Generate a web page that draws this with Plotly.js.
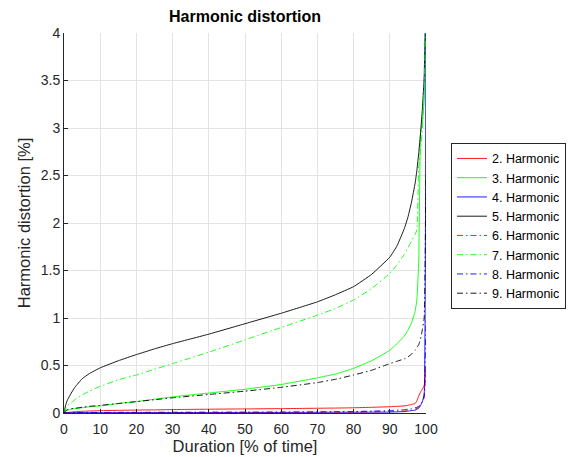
<!DOCTYPE html>
<html>
<head>
<meta charset="utf-8">
<script src="https://cdn.plot.ly/plotly-3.0.1.min.js"></script>
<style>html,body{margin:0;padding:0;background:#fff;}#chart{width:582px;height:457px;}</style>
</head>
<body>
<div id="chart"></div>
<script>
// Duration [% of time]
var duration = [0, 0.5, 1, 2, 3, 5, 7, 10, 15, 20, 25, 30, 40, 50, 60, 70, 75, 80, 85, 90, 92, 94, 95, 96, 97, 97.5, 98, 98.5, 99, 99.5, 100];

// Harmonic distortion [%] per harmonic order
var h2 = [0, 0.003, 0.005, 0.01, 0.013, 0.018, 0.021, 0.025, 0.028, 0.031, 0.033, 0.036, 0.04, 0.043, 0.046, 0.05, 0.052, 0.055, 0.06, 0.066, 0.07, 0.075, 0.08, 0.09, 0.1, 0.13, 0.18, 0.22, 0.25, 0.29, 0.45];
var h3 = [0, 0.02, 0.03, 0.04, 0.045, 0.055, 0.065, 0.075, 0.1, 0.12, 0.145, 0.17, 0.21, 0.25, 0.3, 0.37, 0.41, 0.47, 0.55, 0.66, 0.73, 0.81, 0.87, 0.95, 1.07, 1.2, 1.6, 2.95, 3.05, 3.3, 4.2];
var h4 = [0, 0.002, 0.003, 0.003, 0.003, 0.004, 0.004, 0.004, 0.004, 0.005, 0.005, 0.005, 0.005, 0.006, 0.006, 0.007, 0.008, 0.008, 0.009, 0.01, 0.012, 0.015, 0.02, 0.025, 0.03, 0.04, 0.05, 0.08, 0.12, 0.2, 4.5];
var h5 = [0, 0.09, 0.14, 0.21, 0.27, 0.36, 0.415, 0.475, 0.55, 0.615, 0.675, 0.73, 0.83, 0.94, 1.05, 1.17, 1.245, 1.33, 1.46, 1.64, 1.76, 1.94, 2.06, 2.22, 2.42, 2.56, 2.74, 2.95, 3.2, 3.55, 4.5];
var h6 = [0, 0.002, 0.003, 0.004, 0.004, 0.004, 0.004, 0.005, 0.005, 0.005, 0.005, 0.005, 0.006, 0.006, 0.007, 0.008, 0.009, 0.01, 0.012, 0.015, 0.018, 0.021, 0.025, 0.03, 0.04, 0.05, 0.06, 0.09, 0.12, 0.16, 0.5];
var h7 = [0, 0.05, 0.08, 0.11, 0.14, 0.19, 0.23, 0.28, 0.35, 0.4, 0.46, 0.52, 0.64, 0.77, 0.9, 1.03, 1.1, 1.19, 1.31, 1.47, 1.56, 1.67, 1.74, 1.81, 1.88, 1.93, 2.6, 2.75, 3.0, 3.4, 4.3];
var h8 = [0, 0.003, 0.004, 0.005, 0.005, 0.005, 0.006, 0.006, 0.007, 0.007, 0.008, 0.008, 0.009, 0.009, 0.01, 0.012, 0.013, 0.015, 0.02, 0.025, 0.03, 0.035, 0.04, 0.045, 0.055, 0.06, 0.07, 0.09, 0.12, 0.18, 1.0];
var h9 = [0, 0.025, 0.035, 0.045, 0.05, 0.06, 0.07, 0.08, 0.1, 0.12, 0.14, 0.16, 0.195, 0.23, 0.27, 0.32, 0.355, 0.4, 0.45, 0.52, 0.545, 0.57, 0.59, 0.62, 0.66, 0.69, 0.72, 0.78, 0.88, 1.0, 2.5];

var seriesNames = ['2. Harmonic', '3. Harmonic', '4. Harmonic', '5. Harmonic', '6. Harmonic', '7. Harmonic', '8. Harmonic', '9. Harmonic'];
var seriesValues = [h2, h3, h4, h5, h6, h7, h8, h9];
var seriesColors = ['#ff0000', '#00ff00', '#0000ff', '#000000', '#ff0000', '#00ff00', '#0000ff', '#000000'];
var seriesDash = ['solid', 'solid', 'solid', 'solid', '6px,3px,1.5px,3px', '6px,3px,1.5px,3px', '6px,3px,1.5px,3px', '6px,3px,1.5px,3px'];

var traces = seriesNames.map(function (name, i) {
  return {
    x: duration,
    y: seriesValues[i],
    name: name,
    type: 'scatter',
    mode: 'lines',
    line: {color: seriesColors[i], width: 0.9, dash: seriesDash[i], shape: 'spline', smoothing: 0.3}
  };
});

var axisColor = '#262626';
var layout = {
  width: 582,
  height: 457,
  margin: {l: 64, r: 156, t: 33, b: 44},
  paper_bgcolor: '#ffffff',
  plot_bgcolor: '#ffffff',
  font: {family: '"Liberation Sans", Arial, sans-serif', color: axisColor},
  title: {
    text: '<b>Harmonic distortion</b>',
    font: {size: 16, color: '#000000'},
    x: 0.421, xanchor: 'center',
    y: 0.964, yanchor: 'middle'
  },
  showlegend: true,
  legend: {
    x: 1.069, xanchor: 'left',
    y: 0.711, yanchor: 'top',
    bgcolor: '#ffffff',
    bordercolor: axisColor,
    borderwidth: 1,
    font: {size: 12.5, color: '#000000'},
    tracegroupgap: 0
  },
  xaxis: {
    range: [0, 100],
    tickvals: [0, 10, 20, 30, 40, 50, 60, 70, 80, 90, 100],
    ticktext: ['0', '10', '20', '30', '40', '50', '60', '70', '80', '90', '100'],
    ticks: 'inside', ticklen: 4, tickcolor: axisColor, tickwidth: 1,
    ticklabelstandoff: 3,
    showline: true, linecolor: axisColor, linewidth: 1, mirror: false,
    showgrid: true, gridcolor: '#e3e3e3', gridwidth: 1,
    zeroline: false,
    tickfont: {size: 14, color: axisColor},
    title: {text: 'Duration [% of time]', font: {size: 16.5, color: axisColor}, standoff: 4}
  },
  yaxis: {
    range: [0, 4],
    tickvals: [0, 0.5, 1, 1.5, 2, 2.5, 3, 3.5, 4],
    ticktext: ['0', '0.5', '1', '1.5', '2', '2.5', '3', '3.5', '4'],
    ticks: 'inside', ticklen: 4, tickcolor: axisColor, tickwidth: 1,
    showline: true, linecolor: axisColor, linewidth: 1, mirror: false,
    showgrid: true, gridcolor: '#e3e3e3', gridwidth: 1,
    zeroline: false,
    tickfont: {size: 14, color: axisColor},
    title: {text: 'Harmonic distortion [%]', font: {size: 16.5, color: axisColor}, standoff: 5}
  }
};

Plotly.newPlot('chart', traces, layout, {displayModeBar: false, staticPlot: true});
</script>
</body>
</html>
